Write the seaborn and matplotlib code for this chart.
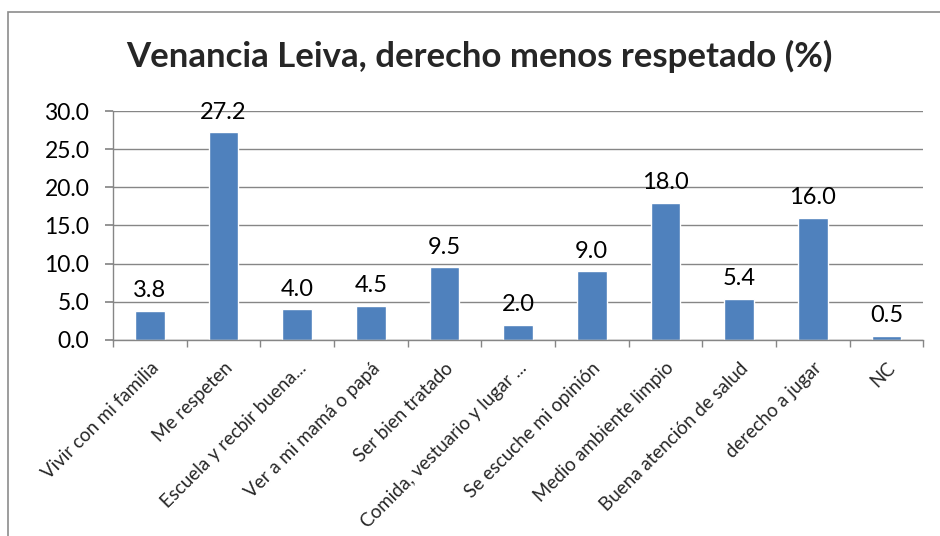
import matplotlib
matplotlib.use("Agg")
import matplotlib.pyplot as plt
import pandas as pd
import seaborn as sns
from matplotlib.patches import Rectangle

# data
categories = ["Vivir con mi familia", "Me respeten", "Escuela y recbir buena...",
              "Ver a mi mamá o papá", "Ser bien tratado", "Comida, vestuario y lugar ...",
              "Se escuche mi opinión", "Medio ambiente limpio", "Buena atención de salud",
              "derecho a jugar", "NC"]
values = [3.8, 27.2, 4.0, 4.5, 9.5, 2.0, 9.0, 18.0, 5.4, 16.0, 0.5]
yticks = [0, 5, 10, 15, 20, 25, 30]

sns.set_theme(style="white")
plt.rcParams['font.family'] = ['Lato', 'DejaVu Sans']

df = pd.DataFrame({"cat": categories, "val": values})

fig = plt.figure(figsize=(9.4, 5.36), dpi=100)
ax = fig.add_axes([0.1202, 0.3657, 0.862, 0.4272])

sns.barplot(data=df, x="cat", y="val", color="#4F81BD", saturation=1,
            width=0.4, ax=ax)

grid_col = "#868686"
ax.set_ylim(0, 30)
ax.set_xlim(-0.5, len(categories) - 0.5)
ax.set_yticks(yticks)
ax.set_yticklabels([f"{v:.1f}" for v in yticks], fontsize=16.5)
ax.yaxis.grid(True, color=grid_col, linewidth=1)
ax.set_axisbelow(True)
ax.set_xlabel("")
ax.set_ylabel("")

for s in ["top", "right"]:
    ax.spines[s].set_visible(False)
for s in ["left", "bottom"]:
    ax.spines[s].set_color(grid_col)
    ax.spines[s].set_linewidth(1)

ax.tick_params(axis="y", which="major", direction="out", length=6,
               color=grid_col, left=True, pad=11, labelcolor="black")
ax.set_xticks(range(len(categories)))
ax.set_xticklabels(categories, rotation=45, ha="right", rotation_mode="anchor",
                   fontsize=13.5)
ax.tick_params(axis="x", which="major", length=0, pad=14)
ax.set_xticks([i - 0.5 for i in range(len(categories) + 1)], minor=True)
ax.tick_params(axis="x", which="minor", direction="out", length=5,
               color=grid_col, bottom=True)

for i, v in enumerate(values):
    ax.annotate(f"{v:.1f}", (i, v), xytext=(0, 7), textcoords="offset points",
                ha="center", va="bottom", fontsize=17, color="black")

fig.text(0.5096, 0.895, "Venancia Leiva, derecho menos respetado (%)",
         ha="center", va="center", fontsize=25, fontweight="bold")

fig.patches.append(Rectangle((8 / 940, -0.1), 1.2, 1 - 12 / 536 + 0.1,
                             transform=fig.transFigure, fill=False,
                             edgecolor="#8c8c8c", linewidth=1.2))

fig.savefig("out.png", dpi=100)
